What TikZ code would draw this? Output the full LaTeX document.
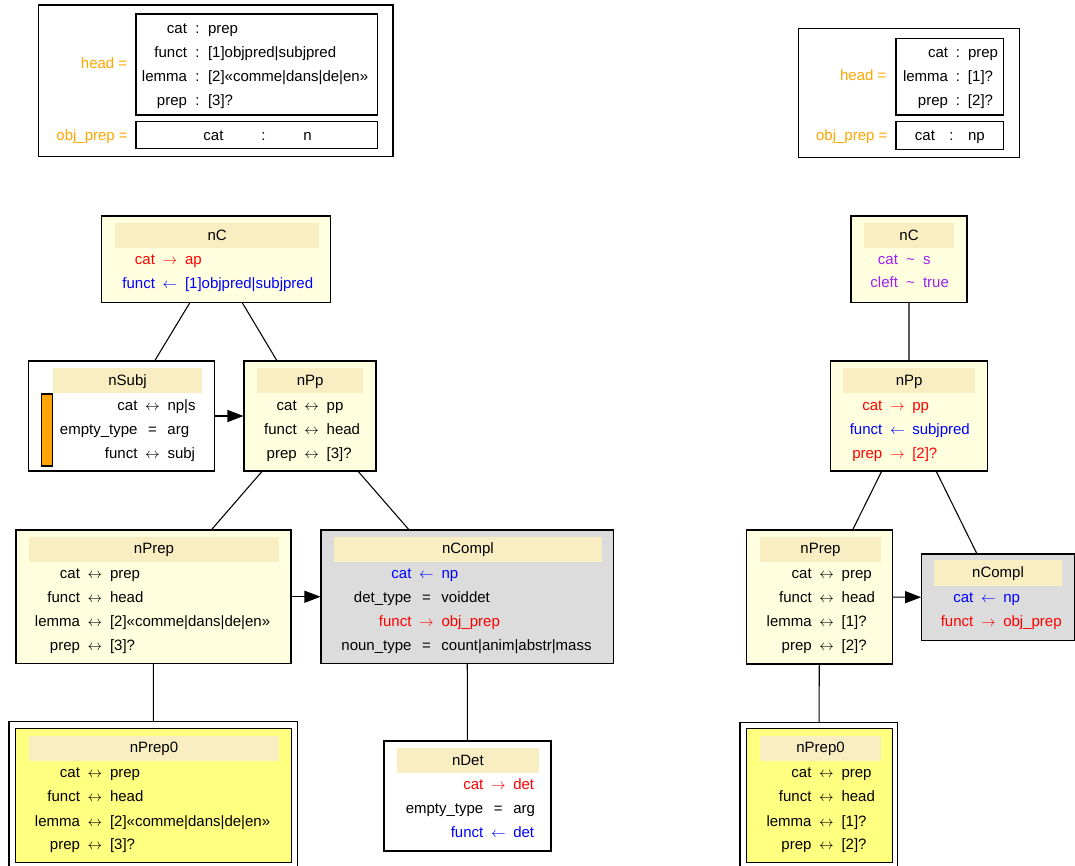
\documentclass[tikz,border=0pt]{standalone}
\usepackage{fontspec}
\setmainfont{Liberation Sans}
\usetikzlibrary{arrows.meta,fit}
\definecolor{boxyellow}{HTML}{FFFFE0}
\definecolor{hdrwheat}{HTML}{F8EEC2}
\definecolor{complgray}{HTML}{DCDCDC}
\definecolor{leafyellow}{HTML}{FFFF80}
\definecolor{labelorange}{HTML}{FFA500}
\definecolor{simpurple}{HTML}{A020F0}
\newcommand{\fr}[4][11.25pt]{\llap{#2\kern#1}\hbox to 0pt{\hss#3\hss}\rlap{\kern#1#4}}
\newcommand{\rarr}{$\rightarrow$}
\newcommand{\larr}{$\leftarrow$}
\newcommand{\barr}{$\leftrightarrow$}

\begin{document}
\begin{tikzpicture}[
  x=0.75pt,y=-0.75pt,
  every node/.style={font=\fontsize{11.25}{13.5}\selectfont},
  fs/.style={draw,line width=0.8pt,inner sep=0pt},
  hdr/.style={fill=hdrwheat,inner sep=0pt},
  hdrtext/.style={inner sep=0pt,text height=8.5pt,text depth=1.5pt},
  attr/.style={anchor=base,inner sep=0pt},
  lbl/.style={anchor=base east,inner sep=0pt,text=labelorange},
  link/.style={line width=0.8pt},
  flow/.style={-{Triangle[length=12pt,width=9pt]},line width=0.8pt}
]
\useasboundingbox (0,0) rectangle (1075,865);

% left pattern header
\node[fs,fit={(38.3,5) (393,156.7)}] (patL) {};
\node[fs,fit={(136,14) (377.7,115)}] (headL) {};
\node[fs,fit={(136,121.7) (377.7,148.3)}] (objL) {};
\node[lbl] (headLl) at (127.5,68.5) {head =};
\node[lbl] (objLl) at (128,140) {obj\_prep =};
\node[attr] (headL1) at (197.5,33.5) {\fr[7.9pt]{cat}{:}{prep}};
\node[attr] (headL2) at (197.5,57.5) {\fr[7.9pt]{funct}{:}{[1]objpred|subjpred}};
\node[attr] (headL3) at (197.5,81.5) {\fr[7.9pt]{lemma}{:}{[2]«comme|dans|de|en»}};
\node[attr] (headL4) at (197.5,105.5) {\fr[7.9pt]{prep}{:}{[3]?}};
\node[attr] (objL1) at (263.5,140) {\fr[30pt]{cat}{:}{n}};

% right pattern header
\node[fs,fit={(798.3,28.3) (1019.3,157.3)}] (patR) {};
\node[fs,fit={(896,38.3) (1003.3,115)}] (headR) {};
\node[fs,fit={(896,121.7) (1003.3,149.3)}] (objR) {};
\node[lbl] (headRl) at (886.7,80) {head =};
\node[lbl] (objRl) at (887.7,140) {obj\_prep =};
\node[attr] (headR1) at (958,57.3) {\fr[7.5pt]{cat}{:}{prep}};
\node[attr] (headR2) at (958,81.3) {\fr[7.5pt]{lemma}{:}{[1]?}};
\node[attr] (headR3) at (958,105.3) {\fr[7.5pt]{prep}{:}{[2]?}};
\node[attr] (objR1) at (951.5,140) {\fr[12.4pt]{cat}{:}{np}};

% left tree
\node[fs,fill=boxyellow,fit={(101.7,216) (330.7,302.3)}] (nCL) {};
\node[hdr,fit={(115,222.7) (319.3,248.3)}] (nCLh) {};
\node[hdrtext] (nCLt) at (nCLh) {nC};
\node[attr,red] (nCL1) at (170,264.5) {\fr{cat}{\rarr}{ap}};
\node[attr,blue] (nCL2) at (170,288) {\fr{funct}{\larr}{[1]objpred|subjpred}};

\node[fs,fill=white,fit={(28.3,361) (214.3,471)}] (nSubj) {};
\node[hdr,fit={(53.3,368.3) (201.7,393.3)}] (nSubjh) {};
\node[hdrtext] (nSubjt) at (nSubjh) {nSubj};
\node[fs,fill=labelorange,fit={(41.7,394) (52.3,466)}] (nSubjbar) {};
\node[attr] (nSubj1) at (152.5,410.5) {\fr{cat}{\barr}{np|s}};
\node[attr] (nSubj2) at (152.5,434) {\fr{empty\_type}{=}{arg}};
\node[attr] (nSubj3) at (152.5,458) {\fr{funct}{\barr}{subj}};

\node[fs,fill=boxyellow,fit={(244,361) (376,471)}] (nPpL) {};
\node[hdr,fit={(257.3,368.3) (363,393.3)}] (nPpLh) {};
\node[hdrtext] (nPpLt) at (nPpLh) {nPp};
\node[attr] (nPpL1) at (311.7,410.5) {\fr{cat}{\barr}{pp}};
\node[attr] (nPpL2) at (311.7,434) {\fr{funct}{\barr}{head}};
\node[attr] (nPpL3) at (311.7,458) {\fr{prep}{\barr}{[3]?}};

\node[fs,fill=boxyellow,fit={(16,530) (291,663.5)}] (nPrepL) {};
\node[hdr,fit={(29,536.5) (279,561.7)}] (nPrepLh) {};
\node[hdrtext] (nPrepLt) at (nPrepLh) {nPrep};
\node[attr] (nPrepL1) at (95,578.5) {\fr{cat}{\barr}{prep}};
\node[attr] (nPrepL2) at (95,602) {\fr{funct}{\barr}{head}};
\node[attr] (nPrepL3) at (95,626.5) {\fr{lemma}{\barr}{[2]«comme|dans|de|en»}};
\node[attr] (nPrepL4) at (95,650) {\fr{prep}{\barr}{[3]?}};

\node[fs,fill=complgray,fit={(321,530) (613.3,663.5)}] (nComplL) {};
\node[hdr,fit={(334,536.5) (601.7,561.7)}] (nComplLh) {};
\node[hdrtext] (nComplLt) at (nComplLh) {nCompl};
\node[attr,blue] (nComplL1) at (426.5,578.5) {\fr{cat}{\larr}{np}};
\node[attr] (nComplL2) at (426.5,602) {\fr{det\_type}{=}{voiddet}};
\node[attr,red] (nComplL3) at (426.5,626.5) {\fr{funct}{\rarr}{obj\_prep}};
\node[attr] (nComplL4) at (426.5,650) {\fr{noun\_type}{=}{count|anim|abstr|mass}};

\node[fs,fit={(9,721.7) (297.7,869)}] (nPrep0L) {};
\node[fs,fill=leafyellow,fit={(15.7,728.3) (291.7,862.5)}] (nPrep0Lin) {};
\node[hdr,fit={(29,735.5) (279,760.7)}] (nPrep0Lh) {};
\node[hdrtext] (nPrep0Lt) at (nPrep0Lh) {nPrep0};
\node[attr] (nPrep0L1) at (95,777.3) {\fr{cat}{\barr}{prep}};
\node[attr] (nPrep0L2) at (95,801) {\fr{funct}{\barr}{head}};
\node[attr] (nPrep0L3) at (95,826) {\fr{lemma}{\barr}{[2]«comme|dans|de|en»}};
\node[attr] (nPrep0L4) at (95,849) {\fr{prep}{\barr}{[3]?}};

\node[fs,fill=white,fit={(384,741) (551,851)}] (nDet) {};
\node[hdr,fit={(396.7,748.3) (539,773.3)}] (nDeth) {};
\node[hdrtext] (nDett) at (nDeth) {nDet};
\node[attr,red] (nDet1) at (498.3,789) {\fr{cat}{\rarr}{det}};
\node[attr] (nDet2) at (498.3,813) {\fr{empty\_type}{=}{arg}};
\node[attr,blue] (nDet3) at (498.3,837) {\fr{funct}{\larr}{det}};

% right tree
\node[fs,fill=boxyellow,fit={(851,216) (967,302.3)}] (nCR) {};
\node[hdr,fit={(864,222.7) (954,248.3)}] (nCRh) {};
\node[hdrtext] (nCRt) at (nCRh) {nC};
\node[attr,simpurple] (nCR1) at (910.5,264.3) {\fr[9.4pt]{cat}{\char"007E}{s}};
\node[attr,simpurple] (nCR2) at (910.5,287.7) {\fr[9.4pt]{cleft}{\char"007E}{true}};

\node[fs,fill=boxyellow,fit={(830.7,361) (987.3,471)}] (nPpR) {};
\node[hdr,fit={(843.3,367.7) (975,393.3)}] (nPpRh) {};
\node[hdrtext] (nPpRt) at (nPpRh) {nPp};
\node[attr,red] (nPpR1) at (897.3,410) {\fr{cat}{\rarr}{pp}};
\node[attr,blue] (nPpR2) at (897.3,434) {\fr{funct}{\larr}{subjpred}};
\node[attr,red] (nPpR3) at (897.3,458.3) {\fr{prep}{\rarr}{[2]?}};

\node[fs,fill=boxyellow,fit={(746.7,530) (892.3,664)}] (nPrepR) {};
\node[hdr,fit={(760,536.5) (881,561.7)}] (nPrepRh) {};
\node[hdrtext] (nPrepRt) at (nPrepRh) {nPrep};
\node[attr] (nPrepR1) at (826.7,578.5) {\fr{cat}{\barr}{prep}};
\node[attr] (nPrepR2) at (826.7,602) {\fr{funct}{\barr}{head}};
\node[attr] (nPrepR3) at (826.7,626.5) {\fr{lemma}{\barr}{[1]?}};
\node[attr] (nPrepR4) at (826.7,650) {\fr{prep}{\barr}{[2]?}};

\node[fs,fill=complgray,fit={(921.7,554) (1075,640.7)}] (nComplR) {};
\node[hdr,fit={(934,560) (1062,585.7)}] (nComplRh) {};
\node[hdrtext] (nComplRt) at (nComplRh) {nCompl};
\node[attr,blue] (nComplR1) at (988.3,602) {\fr{cat}{\larr}{np}};
\node[attr,red] (nComplR2) at (988.3,626.5) {\fr{funct}{\rarr}{obj\_prep}};

\node[fs,fit={(740,722.3) (897.7,869)}] (nPrep0R) {};
\node[fs,fill=leafyellow,fit={(746.3,728.3) (892.3,862.5)}] (nPrep0Rin) {};
\node[hdr,fit={(760,735.7) (881,760.7)}] (nPrep0Rh) {};
\node[hdrtext] (nPrep0Rt) at (nPrep0Rh) {nPrep0};
\node[attr] (nPrep0R1) at (826.5,777.3) {\fr{cat}{\barr}{prep}};
\node[attr] (nPrep0R2) at (826.5,801) {\fr{funct}{\barr}{head}};
\node[attr] (nPrep0R3) at (826.5,826) {\fr{lemma}{\barr}{[1]?}};
\node[attr] (nPrep0R4) at (826.5,849) {\fr{prep}{\barr}{[2]?}};

\draw[link] (nCL) -- (nSubj);
\draw[link] (nCL) -- (nPpL);
\draw[link] (nPpL) -- (nPrepL);
\draw[link] (nPpL) -- (nComplL);
\draw[link] (nPrepL) -- (nPrep0L);
\draw[link] (nComplL) -- (nDet);
\draw[flow] (nSubj) -- (nPpL);
\draw[flow] (nPrepL) -- (nComplL);
\draw[link] (nCR) -- (nPpR);
\draw[link] (nPpR) -- (nPrepR);
\draw[link] (nPpR) -- (nComplR);
\draw[link] (nPrepR) -- (nPrep0R);
\draw[flow] (nPrepR) -- (nComplR);
\end{tikzpicture}
\end{document}
